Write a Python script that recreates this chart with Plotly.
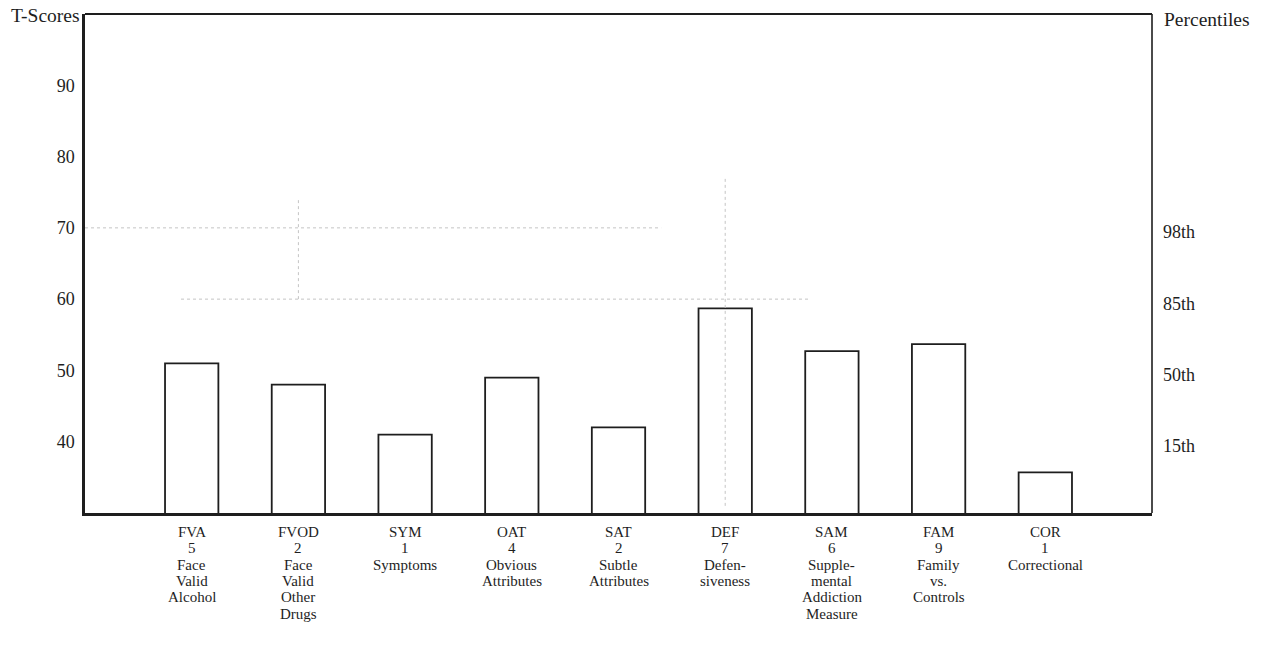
import plotly.graph_objects as go

# Scale codes, raw scores and descriptions for each SASSI scale
codes = ["FVA", "FVOD", "SYM", "OAT", "SAT", "DEF", "SAM", "FAM", "COR"]
raw_scores = ["5", "2", "1", "4", "2", "7", "6", "9", "1"]
descriptions = [
    ["Face", "Valid", "Alcohol"],
    ["Face", "Valid", "Other", "Drugs"],
    ["Symptoms"],
    ["Obvious", "Attributes"],
    ["Subtle", "Attributes"],
    ["Defen-", "siveness"],
    ["Supple-", "mental", "Addiction", "Measure"],
    ["Family", "vs.", "Controls"],
    ["Correctional"],
]
# T-scores per scale
t_scores = [51, 48, 41, 49, 42, 58.7, 52.7, 53.7, 35.7]

# Axis ticks
t_ticks = [40, 50, 60, 70, 80, 90]
pct_ticks = [40, 50, 60, 70]
pct_labels = ["15th", "50th", "85th", "98th"]

# Faint guide lines: (x0, x1, y0, y1)
guides = [
    (-1.0, 4.4, 70, 70),
    (-0.1, 5.8, 60, 60),
    (1.0, 1.0, 60, 74),
    (5.0, 5.0, 31, 77),
]

FONT = "Liberation Serif, Times New Roman, serif"
INK = "#1e1e1e"

fig = go.Figure()

for x0, x1, y0, y1 in guides:
    fig.add_trace(go.Scatter(
        x=[x0, x1], y=[y0, y1], mode="lines",
        line=dict(color="#c4c4c4", width=1, dash="dot"),
        hoverinfo="skip", showlegend=False,
    ))

xs = list(range(len(codes)))
fig.add_trace(go.Bar(
    x=xs, y=t_scores, width=0.5,
    marker=dict(color="rgba(255,255,255,0)", line=dict(color=INK, width=1.8)),
    showlegend=False,
))

# invisible trace that binds the percentile axis
fig.add_trace(go.Scatter(x=[None], y=[None], yaxis="y2", showlegend=False))

fig.update_layout(
    width=1265, height=662,
    margin=dict(l=85, r=113, t=14, b=149),
    paper_bgcolor="white", plot_bgcolor="white",
    font=dict(family=FONT, color=INK),
    xaxis=dict(
        range=[-1, 9], showgrid=False, zeroline=False,
        showticklabels=False, ticks="",
        showline=True, linecolor=INK, linewidth=2.5,
    ),
    yaxis=dict(
        range=[30, 100], tickvals=t_ticks, showgrid=False, zeroline=False,
        ticks="", ticklabelstandoff=4, tickfont=dict(size=18, family=FONT, color=INK),
        showline=True, linecolor=INK, linewidth=2.5,
    ),
    yaxis2=dict(
        range=[30.6, 100.6], overlaying="y", side="right",
        tickvals=pct_ticks, ticktext=pct_labels, showgrid=False, zeroline=False,
        ticks="", ticklabelstandoff=10, tickfont=dict(size=18, family=FONT, color=INK),
        showline=False,
    ),
    shapes=[
        # top and right frame edges
        dict(type="line", xref="paper", yref="paper", x0=0, x1=1, y0=1, y1=1,
             line=dict(color=INK, width=2)),
        dict(type="line", xref="paper", yref="paper", x0=1, x1=1, y0=0, y1=1,
             line=dict(color=INK, width=1.6)),
    ],
)

annotations = [
    dict(text="T-Scores", x=0, y=1, xref="paper", yref="paper",
         xanchor="right", yanchor="middle", xshift=-3, yshift=-1, showarrow=False,
         font=dict(size=19.5, family=FONT, color=INK)),
    dict(text="Percentiles", x=1, y=1, xref="paper", yref="paper",
         xanchor="left", yanchor="middle", xshift=10, yshift=-5, showarrow=False,
         font=dict(size=19.5, family=FONT, color=INK)),
]

# stacked category labels under each bar
for i, (code, raw, desc) in enumerate(zip(codes, raw_scores, descriptions)):
    for j, line in enumerate([code, raw] + desc):
        annotations.append(dict(
            text=line, x=i, y=0, xref="x", yref="paper",
            xanchor="center", yanchor="middle", yshift=-19 - 16.3 * j,
            showarrow=False, font=dict(size=15, family=FONT, color=INK),
        ))

fig.update_layout(annotations=annotations)

fig.write_html("out.html")
